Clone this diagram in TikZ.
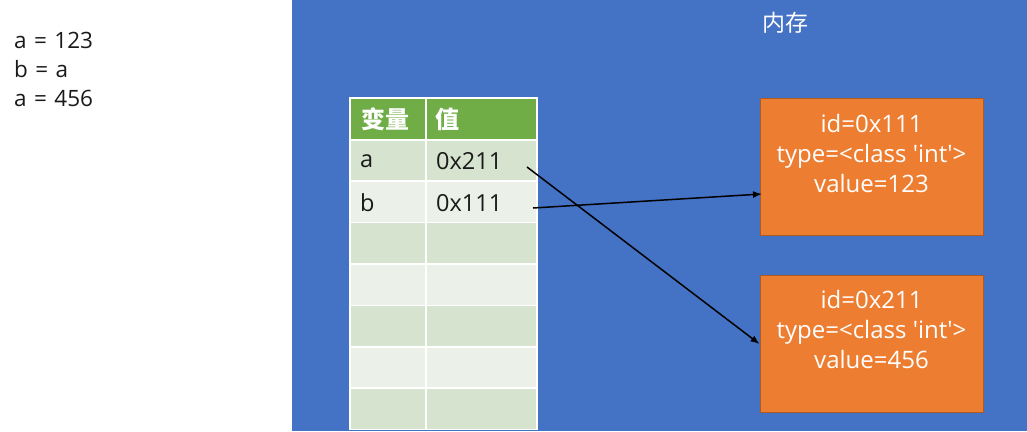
\documentclass[tikz,border=0pt]{standalone}
\usepackage{fontspec}
\setmainfont{Open Sans}
\newfontfamily\cjk{Noto Sans CJK SC}
\usetikzlibrary{arrows.meta}
\definecolor{bg}{HTML}{4472C4}
\definecolor{hdr}{HTML}{70AD47}
\definecolor{rowA}{HTML}{D6E3CF}
\definecolor{rowB}{HTML}{EBF0E9}
\definecolor{org}{HTML}{ED7D31}
\definecolor{orgline}{HTML}{AE5A21}
\definecolor{ink}{HTML}{1A1A1A}
\tikzset{
  cell/.style={draw=white, line width=1.5pt, anchor=north west, inner sep=0pt},
  ctxt/.style={anchor=west, inner sep=0pt, text=ink, font=\fontsize{23.5}{26}\selectfont},
  htxt/.style={anchor=west, inner sep=0pt, text=white, font=\cjk\bfseries\fontsize{24}{26}\selectfont},
  obox/.style={draw=orgline, line width=1pt, fill=org, minimum width=223pt, minimum height=137pt, inner sep=0pt},
  otxt/.style={align=center, text=white, inner sep=0pt, font=\fontsize{24}{30}\selectfont},
  ltxt/.style={anchor=west, align=left, inner sep=0pt, text=ink, font=\fontsize{22.5}{29}\selectfont, text width=120pt},
  conn/.style={line width=1.5pt, -{Latex[length=9pt,width=7pt]}}
}
\begin{document}
\begin{tikzpicture}[x=1pt,y=-1pt]
\useasboundingbox (0,0) rectangle (1027,431);
\fill[white] (0,0) rectangle (1027,431);
\fill[bg] (292,0) rectangle (1027,431);
% code text
\node[ltxt] (code) at (14,69) {\spaceskip=0.33em a = 123\\b = a\\a = 456};
% memory label
\node[text=white, inner sep=0pt, font=\cjk\fontsize{23}{26}\selectfont] (mem) at (785,23) {内存};
% table header
\node[cell, fill=hdr, minimum width=76pt, minimum height=42pt] (h1) at (349,97) {};
\node[cell, fill=hdr, minimum width=111pt, minimum height=42pt] (h2) at (425,97) {};
\node[htxt] (ht1) at (361,119) {变量};
\node[htxt] (ht2) at (435,119) {值};
% rows
\foreach \i/\c in {0/rowA,1/rowB,2/rowA,3/rowB,4/rowA,5/rowB,6/rowA}{
  \node[cell, fill=\c, minimum width=76pt, minimum height=41.4pt] (n\i) at (349,{139+41.4*\i}) {};
  \node[cell, fill=\c, minimum width=111pt, minimum height=41.4pt] (v\i) at (425,{139+41.4*\i}) {};
}
\node[ctxt] (ta) at (360,161) {a};
\node[ctxt] (tva) at (436,161) {0x211};
\node[ctxt] (tb) at (360,203) {b};
\node[ctxt] (tvb) at (436,203) {0x111};
% objects
\node[obox] (o1) at (871.5,166.5) {};
\node[otxt] (ot1) at (871.5,153) {id=0x111\\type=<class \textquotesingle int\textquotesingle>\\value=123};
\node[obox] (o2) at (871.5,344) {};
\node[otxt] (ot2) at (871.5,329) {id=0x211\\type=<class \textquotesingle int\textquotesingle>\\value=456};
% connectors
\coordinate (s1) at (527,167);
\coordinate (s2) at (533,208);
\coordinate (e2) at (762,194);
\draw[conn] (s1) -- (o2.west);
\draw[conn] (s2) -- (e2);
\end{tikzpicture}
\end{document}
